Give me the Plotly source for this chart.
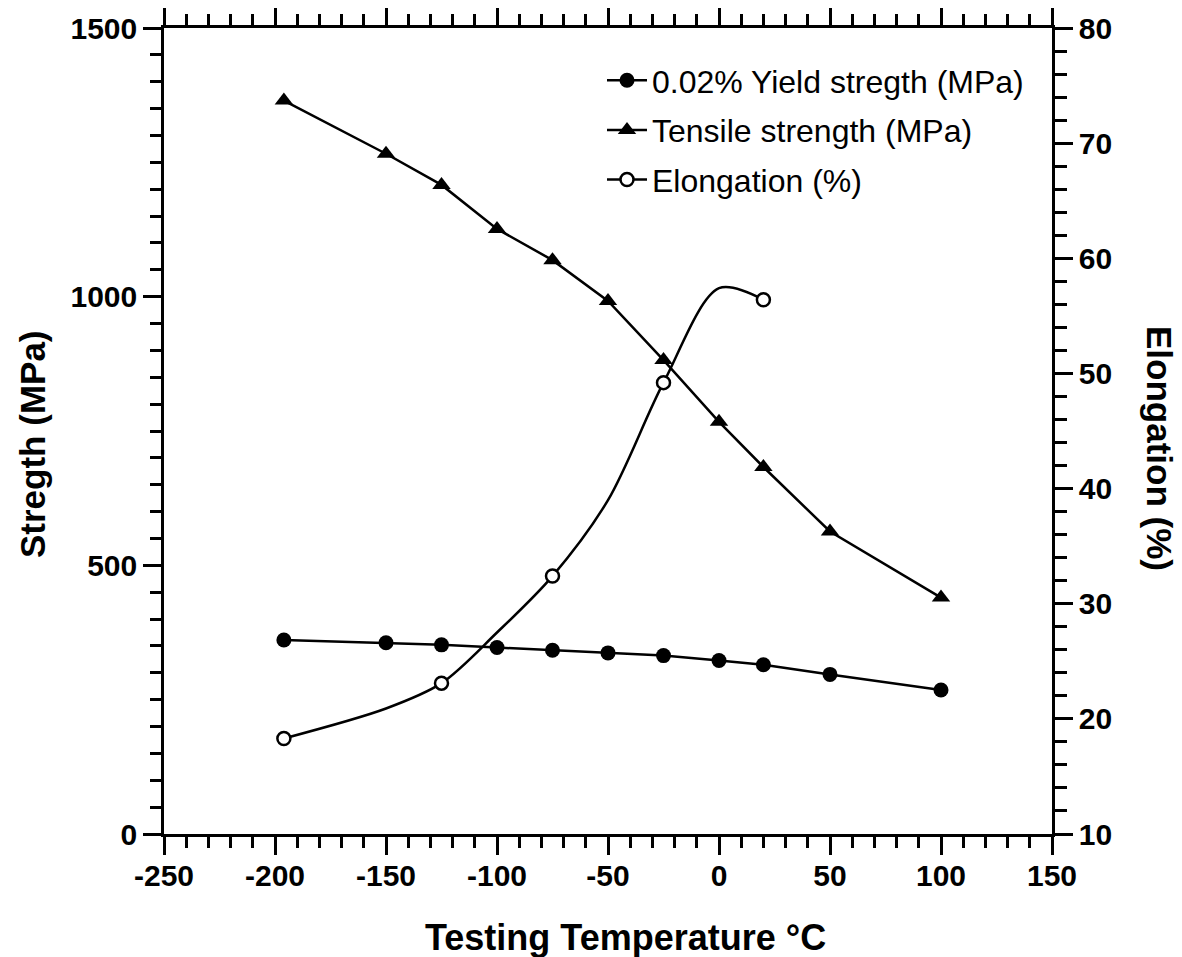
import plotly.graph_objects as go

# ---- data ----
temps = [-196, -150, -125, -100, -75, -50, -25, 0, 20, 50, 100]
yield_strength = [361, 356, 352, 347, 342, 337, 332, 323, 315, 297, 268]
tensile_strength = [1365, 1266, 1208, 1126, 1068, 992, 882, 767, 683, 563, 440]

elong_temps = [-196, -150, -125, -100, -75, -50, -25, 0, 20]
elongation = [18.3, 20.9, 23.1, 27.5, 32.4, 39.0, 49.2, 57.4, 56.4]
elong_measured = [-196, -125, -75, -25, 20]

x_ticks = [-250, -200, -150, -100, -50, 0, 50, 100, 150]
x_ticklabels = [str(v) for v in x_ticks]
y_ticks = [0, 500, 1000, 1500]
y2_ticks = [10, 20, 30, 40, 50, 60, 70, 80]

# ---- figure (page body adds an 8px offset) ----
W, H = 1174, 949
L, T = 156, 20
PLOT_R, PLOT_B = 1044, 826
R, B = W - PLOT_R, H - PLOT_B
PW, PH = PLOT_R - L, PLOT_B - T
FONT = "Liberation Sans, Arial, sans-serif"

fig = go.Figure()

fig.add_trace(go.Scatter(
    x=temps, y=yield_strength, name="0.02% Yield stregth (MPa)",
    mode="lines+markers", legendgroup="a",
    line=dict(color="black", width=2.5),
    marker=dict(symbol="circle", size=15, color="black"),
))
fig.add_trace(go.Scatter(
    x=temps, y=tensile_strength, name="Tensile strength (MPa)",
    mode="lines+markers", legendgroup="b",
    line=dict(color="black", width=2.5),
    marker=dict(symbol="triangle-up", size=16, color="black"),
))
fill = ["white" if t in elong_measured else "rgba(0,0,0,0)" for t in elong_temps]
edge = ["black" if t in elong_measured else "rgba(0,0,0,0)" for t in elong_temps]
fig.add_trace(go.Scatter(
    x=elong_temps, y=elongation, name="Elongation (%)", yaxis="y2",
    mode="lines+markers", legendgroup="c",
    line=dict(color="black", width=2.5, shape="spline", smoothing=0.9),
    marker=dict(symbol="circle", size=13, color=fill,
                line=dict(color=edge, width=2.5)),
))

tickfont = dict(family=FONT, size=30, color="black", weight="bold")
axis_common = dict(
    showline=True, linecolor="black", linewidth=2.5,
    ticks="outside", tickcolor="black", tickwidth=2.5, ticklen=18,
    showgrid=False, zeroline=False, tickfont=tickfont, automargin=False,
)

fig.update_layout(
    width=W, height=H,
    margin=dict(l=L, r=R, t=T, b=B, autoexpand=False),
    paper_bgcolor="white", plot_bgcolor="white",
    font=dict(family=FONT, color="black"),
    xaxis=dict(range=[-250, 150], tickvals=x_ticks, ticktext=x_ticklabels,
               mirror="ticks", ticklabelstandoff=-5,
               minor=dict(dtick=10, ticks="outside", ticklen=11,
                          tickwidth=2.5, tickcolor="black"),
               **axis_common),
    yaxis=dict(range=[0, 1500], tickvals=y_ticks,
               minor=dict(dtick=50, ticks="outside", ticklen=11,
                          tickwidth=2.5, tickcolor="black"),
               **axis_common),
    yaxis2=dict(range=[10, 80], tickvals=y2_ticks, overlaying="y",
                side="right",
                minor=dict(dtick=2, ticks="outside", ticklen=12,
                           tickwidth=2.5, tickcolor="black"),
                **axis_common),
    showlegend=True,
    legend=dict(
        x=(594 - L) / PW, y=(PLOT_B - 45) / PH,
        xanchor="left", yanchor="top",
        bgcolor="rgba(0,0,0,0)", borderwidth=0,
        font=dict(family=FONT, size=32, color="black"),
        tracegroupgap=5, itemwidth=40,
    ),
)

fig.add_annotation(text="Testing Temperature °C", xref="paper", yref="paper",
                   x=(617 - L) / PW, y=-(929 - PLOT_B) / PH,
                   xanchor="center", yanchor="middle", showarrow=False,
                   font=dict(family=FONT, size=36, color="black", weight="bold"))
fig.add_annotation(text="Stregth (MPa)", xref="paper", yref="paper",
                   x=-(L - 24) / PW, y=(PLOT_B - 436) / PH,
                   xanchor="center", yanchor="middle", showarrow=False,
                   textangle=-90,
                   font=dict(family=FONT, size=35, color="black", weight="bold"))
fig.add_annotation(text="Elongation (%)", xref="paper", yref="paper",
                   x=1 + (1152 - PLOT_R) / PW, y=(PLOT_B - 440) / PH,
                   xanchor="center", yanchor="middle", showarrow=False,
                   textangle=90,
                   font=dict(family=FONT, size=35, color="black", weight="bold"))

fig.write_html("out.html")
